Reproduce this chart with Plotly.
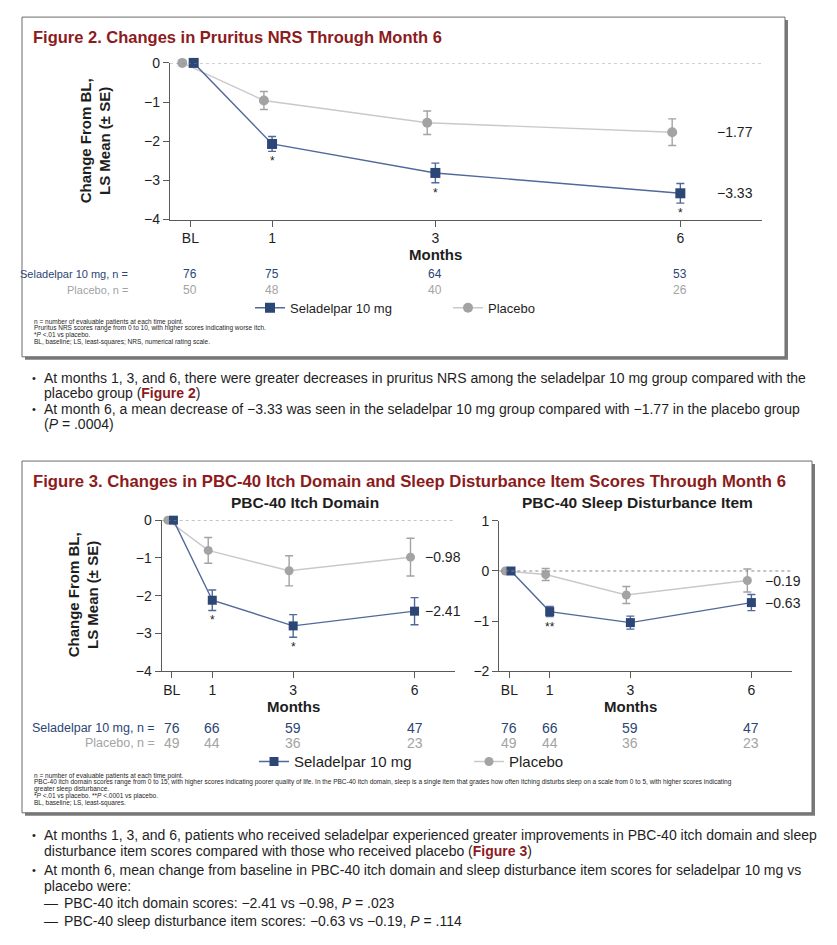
import plotly.graph_objects as go

W, H = 837, 945

# ---- data ----
months = [0, 1, 3, 6]
month_labels = ["BL", "1", "3", "6"]

nrs_sel = [0, -2.07, -2.81, -3.33]
nrs_sel_se = [None, 0.19, 0.25, 0.25]
nrs_pbo = [0, -0.96, -1.53, -1.77]
nrs_pbo_se = [None, 0.23, 0.30, 0.34]
nrs_sig = ["", "*", "*", "*"]
nrs_n_sel = [76, 75, 64, 53]
nrs_n_pbo = [50, 48, 40, 26]

itch_sel = [0, -2.12, -2.80, -2.41]
itch_sel_se = [None, 0.27, 0.30, 0.36]
itch_pbo = [0, -0.80, -1.34, -0.98]
itch_pbo_se = [None, 0.34, 0.40, 0.50]
itch_sig = ["", "*", "*", ""]

sleep_sel = [0, -0.81, -1.03, -0.63]
sleep_sel_se = [None, 0.10, 0.13, 0.16]
sleep_pbo = [0, -0.07, -0.48, -0.19]
sleep_pbo_se = [None, 0.12, 0.17, 0.23]
sleep_sig = ["", "**", "", ""]

pbc_n_sel = [76, 66, 59, 47]
pbc_n_pbo = [49, 44, 36, 23]

# ---- styles ----
SEL_MK = "#2C4675"
SEL_LN = "#51699A"
PBO_MK = "#A3A3A3"
PBO_LN = "#C9C9C9"
RED = "#8C1B20"
AX = "#5A5A5A"
TXT = "#1E1E1E"
FONT = "Liberation Sans, Arial, sans-serif"

# page offset of the plot in the browser shot (measured)
X0, Y0, PH = 8, 16.9, 927


def px(x):
    return (x - X0) / W


def py(y):
    return 1 - (y - Y0) / PH


fig = go.Figure()


def add_panel(ax, sel, sel_se, pbo, pbo_se, legend, show, msize):
    xs = "x" if ax == 1 else f"x{ax}"
    ys = "y" if ax == 1 else f"y{ax}"
    pbo_x = [m - 0.1 for m in months]
    sel_x = [m + (0.04 if m == 0 else 0) for m in months]
    fig.add_trace(go.Scatter(
        x=pbo_x, y=pbo, mode="lines+markers", name="Placebo",
        line=dict(color=PBO_LN, width=1.4),
        marker=dict(symbol="circle", size=msize, color=PBO_MK),
        error_y=dict(type="data", array=pbo_se, color=PBO_MK, thickness=1.4, width=4),
        xaxis=xs, yaxis=ys, legend=legend, showlegend=show, legendrank=2,
        cliponaxis=False))
    fig.add_trace(go.Scatter(
        x=sel_x, y=sel, mode="lines+markers", name="Seladelpar 10 mg",
        line=dict(color=SEL_LN, width=1.4),
        marker=dict(symbol="square", size=msize, color=SEL_MK),
        error_y=dict(type="data", array=sel_se, color=SEL_LN, thickness=1.4, width=4),
        xaxis=xs, yaxis=ys, legend=legend, showlegend=show, legendrank=1,
        cliponaxis=False))


add_panel(1, nrs_sel, nrs_sel_se, nrs_pbo, nrs_pbo_se, "legend", True, 10)
add_panel(2, itch_sel, itch_sel_se, itch_pbo, itch_pbo_se, "legend2", True, 9)
add_panel(3, sleep_sel, sleep_sel_se, sleep_pbo, sleep_pbo_se, "legend2", False, 9)

axis_common = dict(showline=True, linecolor=AX, linewidth=1.3, ticks="outside",
                   ticklen=6, tickcolor=AX, showgrid=False, zeroline=False,
                   tickfont=dict(family=FONT, size=14, color=TXT))
xcommon = dict(axis_common, tickvals=months, ticktext=month_labels, range=[-0.25, 7])

fig.update_layout(
    xaxis=dict(xcommon, domain=[px(170), px(762)], anchor="y"),
    yaxis=dict(axis_common, domain=[py(220), py(63.7)], anchor="x", range=[-4, 0],
               tickvals=[0, -1, -2, -3, -4]),
    xaxis2=dict(xcommon, domain=[px(161.7), px(455)], anchor="y2"),
    yaxis2=dict(axis_common, domain=[py(670.7), py(520)], anchor="x2", range=[-4, 0],
                tickvals=[0, -1, -2, -3, -4]),
    xaxis3=dict(xcommon, domain=[px(499.3), px(791.7)], anchor="y3"),
    yaxis3=dict(axis_common, domain=[py(670.7), py(520.7)], anchor="x3", range=[-2, 1],
                tickvals=[1, 0, -1, -2]),
)

# dotted zero lines, boxes and shadows
shapes = []
for xr, yr in [("x", "y"), ("x2", "y2"), ("x3", "y3")]:
    shapes.append(dict(type="line", xref=f"{xr} domain", yref=yr, x0=0, x1=1, y0=0, y1=0,
                       line=dict(color="#8A8A8A", width=1, dash="dot")))
for x0, y0, x1, y1 in [(22, 18, 785, 357), (22, 461, 812, 812)]:
    shapes.append(dict(type="rect", xref="paper", yref="paper", layer="below",
                       x0=px(x0 + 3), x1=px(x1 + 3), y0=py(y0 + 3), y1=py(y1 + 3),
                       fillcolor="#7A7A7A", line=dict(width=0)))
    shapes.append(dict(type="rect", xref="paper", yref="paper", layer="below",
                       x0=px(x0), x1=px(x1), y0=py(y0), y1=py(y1),
                       fillcolor="white", line=dict(color="#6A6A6A", width=1)))
fig.update_layout(shapes=shapes)

ann = []


def text(x, y, s, size=13, color=TXT, anchor="left", family=FONT, **kw):
    ann.append(dict(x=px(x), y=py(y), xref="paper", yref="paper", text=s, showarrow=False,
                    xanchor=anchor, yanchor="middle", font=dict(family=family, size=size, color=color),
                    **kw))


# titles
text(31, 38, "<b>Figure 2. Changes in Pruritus NRS Through Month 6</b>", 16.5, RED)
text(31, 481, "<b>Figure 3. Changes in PBC-40 Itch Domain and Sleep Disturbance Item Scores Through Month 6</b>",
     16.7, RED)
text(305, 502, "<b>PBC-40 Itch Domain</b>", 15.5, TXT, "center")
text(637, 502, "<b>PBC-40 Sleep Disturbance Item</b>", 15.5, TXT, "center")
text(435, 255, "<b>Months</b>", 15, TXT, "center")
text(293, 706, "<b>Months</b>", 15, TXT, "center")
text(630, 706, "<b>Months</b>", 15, TXT, "center")

# y axis titles
ytitle = "<b>Change From BL,<br>LS Mean (± SE)</b>"
text(95, 142, ytitle, 15, TXT, "center", textangle=-90)
text(83, 595, ytitle, 15, TXT, "center", textangle=-90)

# significance marks (just under the lower error bar) and end labels
for xr, yr, sel, se, sig in [("x", "y", nrs_sel, nrs_sel_se, nrs_sig),
                             ("x2", "y2", itch_sel, itch_sel_se, itch_sig),
                             ("x3", "y3", sleep_sel, sleep_sel_se, sleep_sig)]:
    for m, v, e, s in zip(months, sel, se, sig):
        if s:
            ann.append(dict(x=m, y=v - (e or 0), xref=xr, yref=yr, text=s, showarrow=False,
                            yshift=-10, yanchor="middle",
                            font=dict(family=FONT, size=12, color=TXT)))

for xr, yr, lx, series in [("x", "y", 6.42, [nrs_pbo, nrs_sel]),
                           ("x2", "y2", 6.2, [itch_pbo, itch_sel]),
                           ("x3", "y3", 6.3, [sleep_pbo, sleep_sel])]:
    for s in series:
        ann.append(dict(x=lx, y=s[-1], xref=xr, yref=yr, text=f"{s[-1]:.2f}".replace("-", "−"),
                        showarrow=False, xanchor="left", yanchor="middle",
                        font=dict(family=FONT, size=14, color=TXT)))


def n_row(xr, y, values, size, color):
    for m, v in zip(months, values):
        ann.append(dict(x=m, y=py(y), xref=xr, yref="paper", text=str(v), showarrow=False,
                        xanchor="center", yanchor="middle",
                        font=dict(family=FONT, size=size, color=color)))


# n at risk rows
text(130, 274, "Seladelpar 10 mg, n =", 11, SEL_MK, "right")
text(130, 290, "Placebo, n =", 11, PBO_MK, "right")
n_row("x", 274, nrs_n_sel, 12, SEL_MK)
n_row("x", 290, nrs_n_pbo, 12, PBO_MK)

text(157, 727, "Seladelpar 10 mg, n =", 12.5, SEL_MK, "right")
text(157, 742, "Placebo, n =", 12.5, PBO_MK, "right")
for xr in ["x2", "x3"]:
    n_row(xr, 727, pbc_n_sel, 14, SEL_MK)
    n_row(xr, 742, pbc_n_pbo, 14, PBO_MK)

# footnotes
foot2 = [
    "n = number of evaluable patients at each time point.",
    "Pruritus NRS scores range from 0 to 10, with higher scores indicating worse itch.",
    "*<i>P</i> <.01 vs placebo.",
    "BL, baseline; LS, least-squares; NRS, numerical rating scale.",
]
for i, s in enumerate(foot2):
    text(32, 322 + i * 6.6, s, 6.5)

foot3 = [
    "n = number of evaluable patients at each time point.",
    "PBC-40 itch domain scores range from 0 to 15, with higher scores indicating poorer quality of life. "
    "In the PBC-40 itch domain, sleep is a single item that grades how often itching disturbs sleep on a "
    "scale from 0 to 5, with higher scores indicating",
    "greater sleep disturbance.",
    "*<i>P</i> <.01 vs placebo. **<i>P</i> <.0001 vs placebo.",
    "BL, baseline; LS, least-squares.",
]
for i, s in enumerate(foot3):
    text(32, 775 + i * 6.7, s, 6.5)

# bullet text
fig_ref = "(<b><span style='color:%s'>Figure %%d</span></b>)" % RED
bullets = [
    (378, True, "At months 1, 3, and 6, there were greater decreases in pruritus NRS among the seladelpar 10 mg group compared with the"),
    (393, False, "placebo group " + fig_ref % 2),
    (409, True, "At month 6, a mean decrease of −3.33 was seen in the seladelpar 10 mg group compared with −1.77 in the placebo group"),
    (424, False, "(<i>P</i> = .0004)"),
    (834, True, "At months 1, 3, and 6, patients who received seladelpar experienced greater improvements in PBC-40 itch domain and sleep"),
    (850, False, "disturbance item scores compared with those who received placebo " + fig_ref % 3),
    (869, True, "At month 6, mean change from baseline in PBC-40 itch domain and sleep disturbance item scores for seladelpar 10 mg vs"),
    (885, False, "placebo were:"),
]
for y, dot, s in bullets:
    if dot:
        text(30, y, "•", 11)
    text(42, y, s, 14)

for y, s in [(902, "PBC-40 itch domain scores: −2.41 vs −0.98, <i>P</i> = .023"),
             (920, "PBC-40 sleep disturbance item scores: −0.63 vs −0.19, <i>P</i> = .114")]:
    text(42, y, "—", 14)
    text(62, y, s, 14)

fig.update_layout(annotations=ann)

fig.update_layout(
    width=W, height=H, margin=dict(l=0, r=0, t=0, b=0),
    paper_bgcolor="white", plot_bgcolor="rgba(0,0,0,0)",
    font=dict(family=FONT, color=TXT),
    legend=dict(orientation="h", x=px(250), y=py(308), xanchor="left", yanchor="middle",
                font=dict(family=FONT, size=13, color=TXT), entrywidth=153,
                bgcolor="rgba(0,0,0,0)", traceorder="normal", itemwidth=30),
    legend2=dict(orientation="h", x=px(254), y=py(761), xanchor="left", yanchor="middle",
                 font=dict(family=FONT, size=15, color=TXT), entrywidth=170,
                 bgcolor="rgba(0,0,0,0)", traceorder="normal", itemwidth=30),
)

fig.write_html("out.html")
